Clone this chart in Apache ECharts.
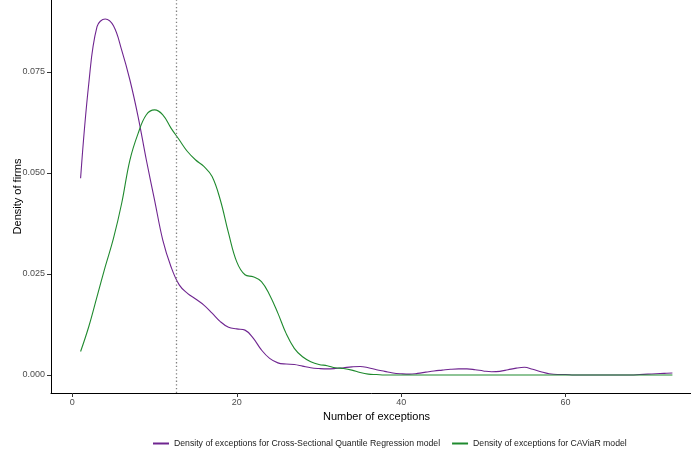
<!DOCTYPE html>
<html>
<head>
<meta charset="utf-8">
<script src="https://cdn.jsdelivr.net/npm/echarts@6/dist/echarts.min.js"></script>
<style>
  html, body { margin: 0; padding: 0; background: #fff; }
  #chart { width: 691px; height: 454px; }
</style>
</head>
<body>
<div id="chart"></div>
<script>
// number of exceptions (x)
const exceptions = [1, 2, 3, 4, 5, 6, 7, 8, 9, 10, 11, 12, 13, 14, 15, 16, 17, 18, 19, 20,
  21, 22, 23, 24, 25, 26, 27, 28, 29, 30, 31, 32, 33, 34, 35, 36, 37, 38, 39, 40,
  41, 42, 43, 44, 45, 46, 47, 48, 49, 50, 51, 52, 53, 54, 55, 56, 57, 58, 59, 60,
  61, 62, 63, 64, 65, 66, 67, 68, 69, 70, 71, 72, 73]

// density, Cross-Sectional Quantile Regression
const cqrDensity = [0.0487, 0.0722, 0.0862, 0.0881, 0.0864, 0.0804, 0.0730, 0.0639, 0.0532, 0.0433,
  0.0334, 0.0268, 0.0223, 0.0202, 0.0188, 0.0173, 0.0153, 0.0132, 0.0118, 0.0114,
  0.0111, 0.0091, 0.0062, 0.0041, 0.0030, 0.0027, 0.0026, 0.0022, 0.0018, 0.0016,
  0.0015, 0.0016, 0.0018, 0.0020, 0.0021, 0.0018, 0.0013, 0.0009, 0.0005, 0.0003,
  0.0002, 0.0004, 0.0007, 0.0010, 0.0012, 0.0014, 0.0015, 0.0015, 0.0013, 0.0010,
  0.0008, 0.0009, 0.0013, 0.0017, 0.0019, 0.0014, 0.0008, 0.0003, 0.0001, 0.0001,
  0.0000, 0.0000, 0.0000, 0.0000, 0.0000, 0.0000, 0.0000, 0.0000, 0.0001, 0.0002,
  0.0003, 0.0004, 0.0005]

// density, CAViaR
const caviarDensity = [0.0058, 0.0120, 0.0194, 0.0268, 0.0338, 0.0425, 0.0532, 0.0598, 0.0644, 0.0656,
  0.0644, 0.0611, 0.0582, 0.0553, 0.0532, 0.0516, 0.0491, 0.0433, 0.0351, 0.0280,
  0.0248, 0.0243, 0.0231, 0.0198, 0.0153, 0.0103, 0.0066, 0.0045, 0.0033, 0.0026,
  0.0023, 0.0018, 0.0016, 0.0012, 0.0006, 0.0002, 0.0001, 0, 0, 0,
  0, 0, 0, 0, 0, 0, 0, 0, 0, 0,
  0, 0, 0, 0, 0, 0, 0, 0, 0, 0,
  0, 0, 0, 0, 0, 0, 0, 0, 0, 0,
  0, 0, 0]

const xTicks = [0, 20, 40, 60]
const yTicks = [0, 0.025, 0.05, 0.075]
const cutoff = 12.65

const names = [
  'Density of exceptions for Cross-Sectional Quantile Regression model',
  'Density of exceptions for CAViaR model'
]

const font = 'Liberation Sans, Arial, sans-serif'

const option = {
  animation: false,
  textStyle: { fontFamily: font },
  grid: { left: 51, right: -11, top: 0, bottom: 61, outerBoundsMode: 'none', containLabel: false },
  legend: {
    bottom: 1,
    left: 148,
    itemWidth: 16,
    itemHeight: 2,
    itemGap: 12,
    icon: 'rect',
    textStyle: { fontSize: 8.7, color: '#1a1a1a', fontFamily: font },
    data: names
  },
  xAxis: {
    type: 'value',
    min: -2.6,
    max: 76.6,
    name: 'Number of exceptions',
    nameLocation: 'middle',
    nameGap: 11,
    nameTextStyle: { fontSize: 11, color: '#000' },
    splitLine: { show: false },
    axisLine: { onZero: false, lineStyle: { color: '#000', width: 1 } },
    axisTick: { customValues: xTicks, length: 4, lineStyle: { color: '#333' } },
    axisLabel: { customValues: xTicks, fontSize: 9, color: '#4d4d4d', margin: 5 }
  },
  yAxis: {
    type: 'value',
    min: -0.00446,
    max: 0.0928,
    name: 'Density of firms',
    nameLocation: 'middle',
    nameGap: 28,
    nameMoveOverlap: false,
    nameTextStyle: { fontSize: 11, color: '#000' },
    splitLine: { show: false },
    axisLine: { show: true, onZero: false, lineStyle: { color: '#000', width: 1 } },
    axisTick: { show: true, customValues: yTicks, length: 4, lineStyle: { color: '#333' } },
    axisLabel: {
      customValues: yTicks, fontSize: 9, color: '#4d4d4d', margin: 6,
      formatter: v => v.toFixed(3)
    }
  },
  series: [
    {
      name: names[0],
      type: 'line',
      smooth: 0.4,
      showSymbol: false,
      lineStyle: { color: '#6f2590', width: 1.1 },
      itemStyle: { color: '#6f2590' },
      data: exceptions.map((x, i) => [x, cqrDensity[i]]),
      markLine: {
        silent: true,
        symbol: 'none',
        label: { show: false },
        lineStyle: { type: [1.3, 2.4], color: '#808080', width: 1.3 },
        data: [{ xAxis: cutoff }]
      }
    },
    {
      name: names[1],
      type: 'line',
      smooth: 0.4,
      showSymbol: false,
      lineStyle: { color: '#1f8a2e', width: 1.1 },
      itemStyle: { color: '#1f8a2e' },
      data: exceptions.map((x, i) => [x, caviarDensity[i]])
    }
  ]
}

const chart = echarts.init(document.getElementById('chart'))
chart.setOption(option)
</script>
</body>
</html>
